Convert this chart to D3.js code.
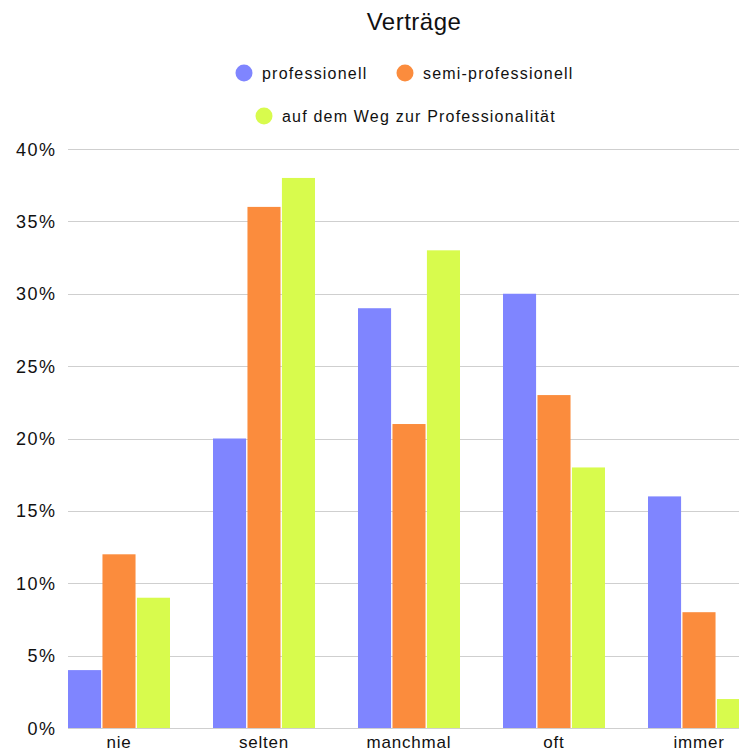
<!DOCTYPE html>
<html>
<head>
<meta charset="utf-8">
<script src="https://cdn.jsdelivr.net/npm/d3@7"></script>
<style>
  body { margin: 0; background: #fff; }
  svg { display: block; font-family: "Liberation Sans", Arial, sans-serif; }
</style>
</head>
<body>
<script>
// Daten
const categories = ["nie", "selten", "manchmal", "oft", "immer"];
const seriesNames = ["professionell", "semi-professionell", "auf dem Weg zur Professionalität"];
const professionell = [4, 20, 29, 30, 16];
const semiProfessionell = [12, 36, 21, 23, 8];
const aufDemWeg = [9, 38, 33, 18, 2];
const yTicks = [0, 5, 10, 15, 20, 25, 30, 35, 40];
const colors = ["#7f85ff", "#fb8c3d", "#d8fb4d"];

const width = 739, height = 752;
const series = [professionell, semiProfessionell, aufDemWeg];

const svg = d3.select("body").append("svg")
    .attr("width", width)
    .attr("height", height);

// Skalen
const y = d3.scaleLinear().domain([0, 40]).range([728, 149]);
const x = d3.scaleBand()
    .domain(categories)
    .range([46.5, 46.5 + 145 * categories.length])
    .paddingInner(0.2966)
    .paddingOuter(0.1483);
const xInner = d3.scaleBand()
    .domain(d3.range(series.length))
    .range([0, x.bandwidth()])
    .paddingInner(0.04);

// Gitterlinien
svg.append("g")
    .selectAll("line")
    .data(yTicks)
    .enter()
    .append("line")
    .attr("x1", 68)
    .attr("x2", width)
    .attr("y1", d => Math.round(y(d)) + 0.5)
    .attr("y2", d => Math.round(y(d)) + 0.5)
    .attr("stroke", "#cfcfcf")
    .attr("stroke-width", 1);

// Y-Beschriftung
svg.append("g")
    .selectAll("text")
    .data(yTicks)
    .enter()
    .append("text")
    .attr("x", 56.5)
    .attr("y", d => y(d) + 6.5)
    .attr("text-anchor", "end")
    .attr("font-size", 18)
    .attr("letter-spacing", 1.5)
    .attr("fill", "#111")
    .text(d => d + "%");

// Balken
const groups = svg.append("g")
    .selectAll("g")
    .data(categories)
    .enter()
    .append("g")
    .attr("transform", d => `translate(${x(d)},0)`);

groups.selectAll("rect")
    .data((c, i) => series.map((s, k) => ({ k, v: s[i] })))
    .enter()
    .append("rect")
    .attr("x", d => xInner(d.k))
    .attr("width", xInner.bandwidth())
    .attr("y", d => y(d.v))
    .attr("height", d => y(0) - y(d.v))
    .attr("fill", d => colors[d.k]);

// X-Beschriftung
svg.append("g")
    .selectAll("text")
    .data(categories)
    .enter()
    .append("text")
    .attr("x", d => x(d) + x.bandwidth() / 2)
    .attr("y", 748)
    .attr("text-anchor", "middle")
    .attr("font-size", 17)
    .attr("letter-spacing", 0.8)
    .attr("fill", "#111")
    .text(d => d);

// Titel
svg.append("text")
    .attr("x", 414)
    .attr("y", 30)
    .attr("text-anchor", "middle")
    .attr("font-size", 24)
    .attr("letter-spacing", 0.5)
    .attr("fill", "#111")
    .text("Verträge");

// Legende
const legendPos = [[244, 73], [405, 73], [264, 116]];
const legend = svg.append("g")
    .selectAll("g")
    .data(seriesNames)
    .enter()
    .append("g")
    .attr("transform", (d, i) => `translate(${legendPos[i][0]},${legendPos[i][1]})`);

legend.append("circle")
    .attr("r", 8.5)
    .attr("fill", (d, i) => colors[i]);

legend.append("text")
    .attr("x", 18)
    .attr("y", 5.5)
    .attr("font-size", 16)
    .attr("letter-spacing", 1.2)
    .attr("fill", "#111")
    .text(d => d);
</script>
</body>
</html>
